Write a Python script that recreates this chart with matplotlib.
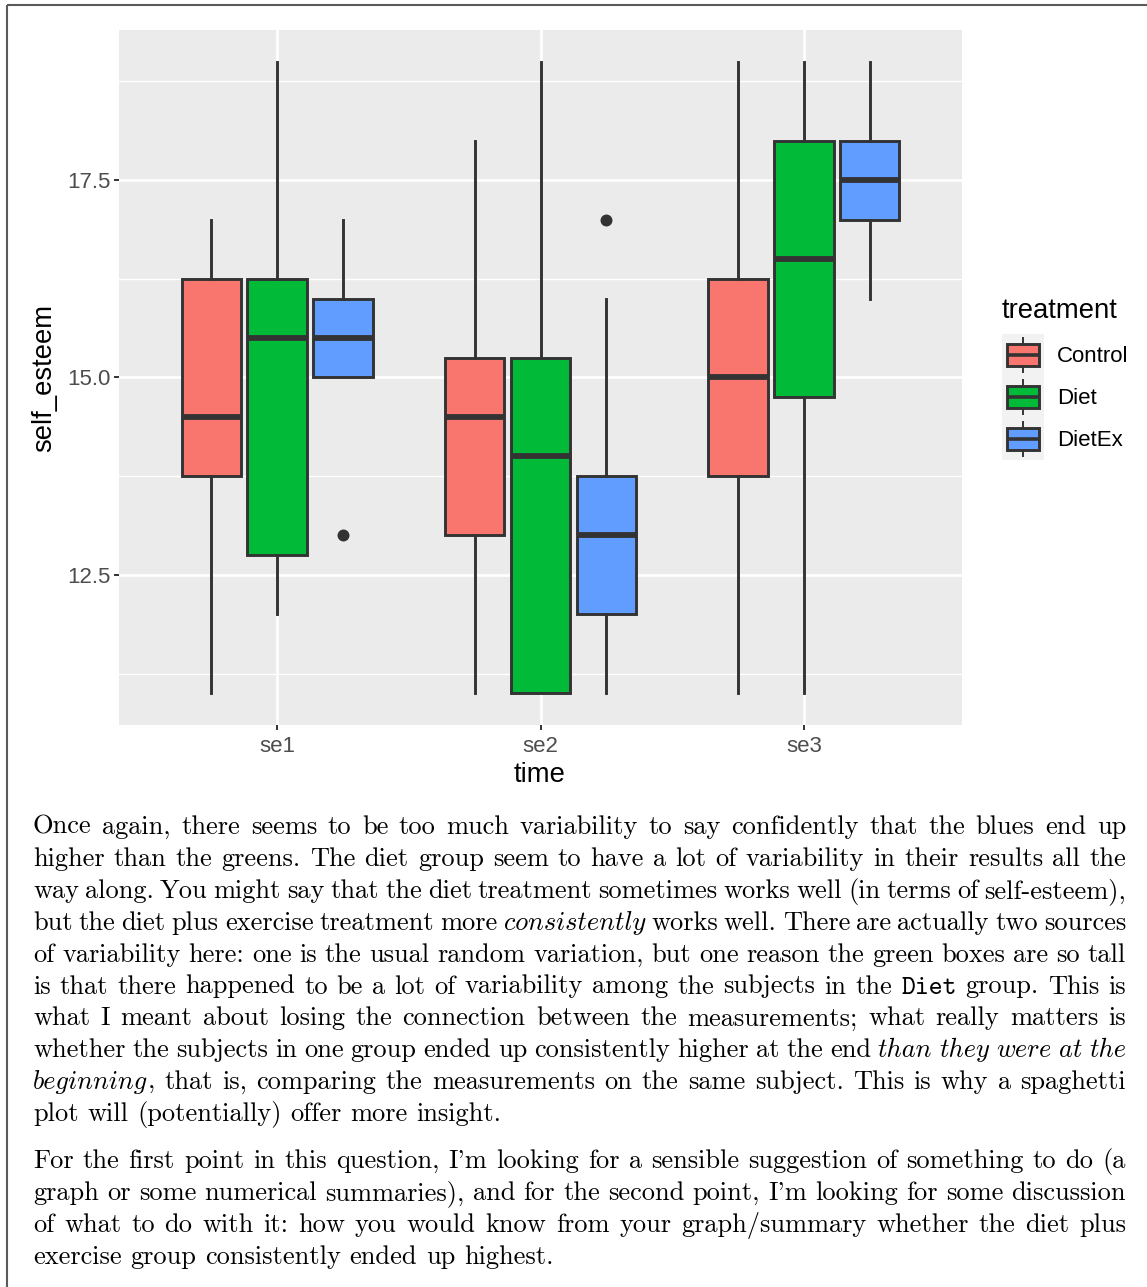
import re
import numpy as np
import matplotlib.pyplot as plt
from matplotlib.ticker import FixedLocator
from matplotlib.patches import Rectangle

W, H = 1147, 1287

# boxplot summaries of self_esteem by time and treatment
times = ['se1', 'se2', 'se3']
treatments = ['Control', 'Diet', 'DietEx']
colours = ['#F8766D', '#00BA38', '#619CFF']

whislo = {'Control': [11, 11, 11], 'Diet': [12, 11, 11], 'DietEx': [15, 11, 16]}
q1 = {'Control': [13.75, 13, 13.75], 'Diet': [12.75, 11, 14.75], 'DietEx': [15, 12, 17]}
med = {'Control': [14.5, 14.5, 15], 'Diet': [15.5, 14, 16.5], 'DietEx': [15.5, 13, 17.5]}
q3 = {'Control': [16.25, 15.25, 16.25], 'Diet': [16.25, 15.25, 18], 'DietEx': [16, 13.75, 18]}
whishi = {'Control': [17, 18, 19], 'Diet': [19, 19, 19], 'DietEx': [17, 16, 19]}
fliers = {'Control': [[], [], []], 'Diet': [[], [], []], 'DietEx': [[13], [17], []]}

para1 = [
    "Once again, there seems to be too much variability to say confidently that the blues end up",
    "higher than the greens. The diet group seem to have a lot of variability in their results all the",
    "way along. You might say that the diet treatment sometimes works well (in terms of self-esteem),",
    "but the diet plus exercise treatment more *consistently* works well. There are actually two sources",
    "of variability here: one is the usual random variation, but one reason the green boxes are so tall",
    "is that there happened to be a lot of variability among the subjects in the `Diet` group. This is",
    "what I meant about losing the connection between the measurements; what really matters is",
    "whether the subjects in one group ended up consistently higher at the end *than* *they* *were* *at* *the*",
    "*beginning*, that is, comparing the measurements on the same subject. This is why a spaghetti",
    "plot will (potentially) offer more insight.",
]
para2 = [
    "For the first point in this question, I'm looking for a sensible suggestion of something to do (a",
    "graph or some numerical summaries), and for the second point, I'm looking for some discussion",
    "of what to do with it: how you would know from your graph/summary whether the diet plus",
    "exercise group consistently ended up highest.",
]

sans = 'Liberation Sans'
fig = plt.figure(figsize=(W / 100, H / 100), dpi=100)

ax = fig.add_axes([119 / W, 1 - 725 / H, 843 / W, 695 / H])
ax.set_facecolor('#EBEBEB')
ax.set_xlim(0.4, 3.6)
ax.set_ylim(10.6, 19.4)
ax.set_axisbelow(True)
for s in ax.spines.values():
    s.set_visible(False)

ax.yaxis.set_major_locator(FixedLocator([12.5, 15.0, 17.5]))
ax.yaxis.set_minor_locator(FixedLocator([11.25, 13.75, 16.25, 18.75]))
ax.set_yticklabels(['12.5', '15.0', '17.5'])
ax.set_xticks([1, 2, 3])
ax.set_xticklabels(times)
ax.grid(which='major', color='white', lw=1.9)
ax.grid(which='minor', axis='y', color='white', lw=0.95)
ax.tick_params(which='major', length=3.6, width=1.4, color='#333333',
               labelcolor='#4D4D4D', labelsize=16)
ax.tick_params(which='minor', length=0)
ax.tick_params(axis='y', pad=2.5)
ax.tick_params(axis='x', pad=4.5)
for lab in ax.get_xticklabels() + ax.get_yticklabels():
    lab.set_family(sans)

offsets = [-0.25, 0.0, 0.25]
for k, tr in enumerate(treatments):
    stats = []
    for i in range(len(times)):
        stats.append(dict(med=med[tr][i], q1=q1[tr][i], q3=q3[tr][i],
                          whislo=whislo[tr][i], whishi=whishi[tr][i],
                          fliers=np.array(fliers[tr][i], dtype=float)))
    pos = np.arange(1, len(times) + 1) + offsets[k]
    ax.bxp(stats, positions=pos, widths=0.225, patch_artist=True, showcaps=False,
           boxprops=dict(facecolor=colours[k], edgecolor='#333333', linewidth=2.1),
           medianprops=dict(color='#333333', linewidth=4.2, solid_capstyle='butt'),
           whiskerprops=dict(color='#333333', linewidth=2.1),
           flierprops=dict(marker='o', markerfacecolor='#333333', markeredgecolor='none',
                           markersize=8.6),
           manage_ticks=False)

# overlay in pixel units for frame, titles, legend and prose
pax = fig.add_axes([0, 0, 1, 1], zorder=-1)
pax.set_xlim(0, W)
pax.set_ylim(H, 0)
pax.axis('off')

pax.plot([7, W], [5, 5], color='#5A5A5A', lw=1.5, solid_capstyle='butt')
pax.plot([7, 7], [5, H], color='#5A5A5A', lw=1.5, solid_capstyle='butt')

pax.text(540, 775, 'time', family=sans, fontsize=19.8, ha='center', va='center')
pax.text(44, 378, 'self_esteem', family=sans, fontsize=19.8, ha='center', va='center',
         rotation=90)

# legend
pax.text(1002, 311, 'treatment', family=sans, fontsize=19.8, ha='left', va='center')
for k, tr in enumerate(treatments):
    top = 334 + 42 * k
    cy = top + 21
    pax.add_patch(Rectangle((1002, top), 42, 42, facecolor='#F2F2F2', edgecolor='none',
                            zorder=1))
    pax.plot([1023, 1023], [cy - 17, cy + 17], color='#333333', lw=1.4, zorder=2)
    pax.add_patch(Rectangle((1007, cy - 11), 32, 22, facecolor=colours[k],
                            edgecolor='#333333', lw=2.1, zorder=3))
    pax.plot([1007, 1039], [cy, cy], color='#333333', lw=2.6, solid_capstyle='butt',
             zorder=4)
    pax.text(1057, cy + 2, tr, family=sans, fontsize=16, ha='left', va='center')

# justified prose set in Computer Modern
fonts = {'rm': 'cmr10', 'it': 'cmmi10', 'tt': 'cmtt10'}
fsize = 19
renderer = fig.canvas.get_renderer()


def parse_word(word):
    parts = []
    for tok in re.findall(r'\*[^*]+\*|`[^`]+`|[^*`]+', word):
        if tok.startswith('*'):
            parts.append((tok[1:-1], 'it'))
        elif tok.startswith('`'):
            parts.append((tok[1:-1], 'tt'))
        else:
            parts.append((tok, 'rm'))
    return parts


def set_line(line, y, x0=33, x1=1126, justify=True):
    words = []
    for w in line.split(' '):
        arts = []
        width = 0
        for txt, st in parse_word(w):
            t = pax.text(0, y, txt, family=fonts[st], fontsize=fsize, va='baseline', ha='left')
            wd = t.get_window_extent(renderer).width
            arts.append((t, wd))
            width += wd
        words.append((arts, width))
    total = sum(w for _, w in words)
    if justify and len(words) > 1:
        gap = (x1 - x0 - total) / (len(words) - 1)
    else:
        gap = fsize * 100 / 72 * 0.333
    x = x0
    for arts, width in words:
        for t, wd in arts:
            t.set_x(x)
            x += wd
        x += gap


fig.canvas.draw()
for i, line in enumerate(para1):
    set_line(line, 834 + 31.9 * i, justify=(i < len(para1) - 1))
for i, line in enumerate(para2):
    set_line(line, 1168 + 31.9 * i, justify=(i < len(para2) - 1))

fig.savefig('out.png', dpi=100)
